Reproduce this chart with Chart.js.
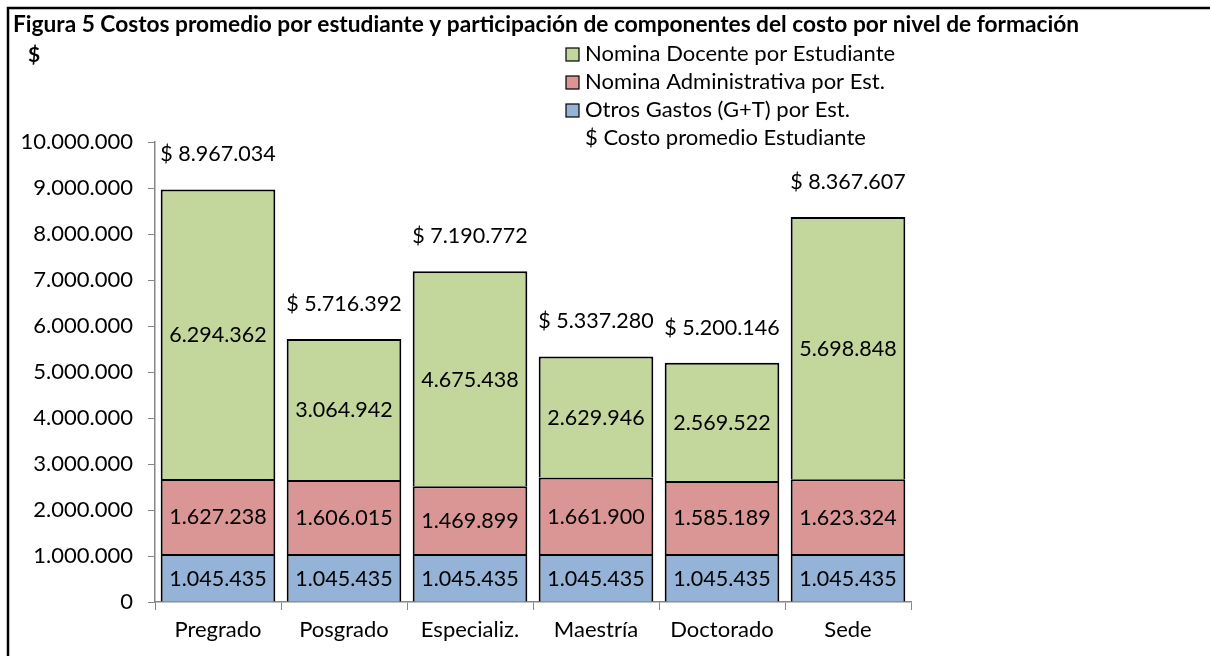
<!DOCTYPE html>
<html>
<head>
<meta charset="utf-8">
<script src="https://cdn.jsdelivr.net/npm/chart.js@4/dist/chart.umd.min.js"></script>
<style>
  html, body { margin: 0; padding: 0; background: #fff; }
  canvas { display: block; }
</style>
</head>
<body>
<canvas id="costosChart" width="1210" height="656"></canvas>
<script>
// datos de la figura 5
const categorias = ["Pregrado", "Posgrado", "Especializ.", "Maestría", "Doctorado", "Sede"];
const otrosGastos = [1045435, 1045435, 1045435, 1045435, 1045435, 1045435];
const nominaAdministrativa = [1627238, 1606015, 1469899, 1661900, 1585189, 1623324];
const nominaDocente = [6294362, 3064942, 4675438, 2629946, 2569522, 5698848];
const costoPromedio = [8967034, 5716392, 7190772, 5337280, 5200146, 8367607];
const ejeYMax = 10000000;
const ejeYPaso = 1000000;

const titulo = "Figura 5 Costos promedio por estudiante y participación de componentes del costo por nivel de formación";

// 1234567 -> "1.234.567"
function fmt(v) {
  return String(Math.round(v)).replace(/\B(?=(\d{3})+(?!\d))/g, ".");
}

Chart.defaults.font.family = "Lato";
Chart.defaults.color = "#000";

// marco, titulo, "$" y leyenda
const marcoPlugin = {
  id: "marco",
  beforeDraw(chart) {
    const c = chart.ctx;
    c.save();
    c.fillStyle = "#fff";
    c.fillRect(0, 0, chart.width, chart.height);
    c.strokeStyle = "#000";
    c.lineWidth = 2.5;
    c.beginPath();
    c.moveTo(8, chart.height);
    c.lineTo(8, 8);
    c.lineTo(chart.width, 8);
    c.stroke();
    c.restore();
  },
  afterDraw(chart) {
    const c = chart.ctx;
    c.save();
    c.fillStyle = "#000";
    c.textBaseline = "middle";
    c.font = "bold 22.7px Lato";
    c.fillText(titulo, 13, 25);
    c.font = "bold 21px Lato";
    c.fillText("$", 28, 55);

    // leyenda: barras de arriba hacia abajo, luego el costo promedio
    c.font = "22px Lato";
    const items = [2, 1, 0, 3];
    items.forEach((i, k) => {
      const ds = chart.data.datasets[i];
      const y = 54 + k * 28;
      if (ds.type !== "line") {
        c.fillStyle = ds.backgroundColor;
        c.fillRect(566, y - 6, 13, 13);
        c.strokeStyle = "#000";
        c.lineWidth = 1.2;
        c.strokeRect(566, y - 6, 13, 13);
      }
      c.fillStyle = "#000";
      c.fillText(ds.label, 585, y);
    });
    c.restore();
  }
};

// etiquetas de valores dentro de cada segmento y encima del total
const etiquetasPlugin = {
  id: "etiquetas",
  afterDatasetsDraw(chart) {
    const c = chart.ctx;
    c.save();
    c.fillStyle = "#000";
    c.font = "21.5px Lato";
    c.textAlign = "center";
    c.textBaseline = "middle";
    chart.data.datasets.forEach((ds, i) => {
      const meta = chart.getDatasetMeta(i);
      meta.data.forEach((el, j) => {
        const v = ds.data[j];
        if (ds.type === "line") {
          c.fillText("$ " + fmt(v), el.x, el.y - 35);
        } else {
          const p = el.getProps(["x", "y", "base"], true);
          c.fillText(fmt(v), p.x, (p.y + p.base) / 2 + 1);
        }
      });
    });
    c.restore();
  }
};

new Chart(document.getElementById("costosChart"), {
  type: "bar",
  data: {
    labels: categorias,
    datasets: [
      {
        label: "Otros Gastos (G+T) por Est.",
        data: otrosGastos,
        backgroundColor: "#95b3d7",
        borderColor: "#000",
        borderWidth: 2,
        stack: "costo"
      },
      {
        label: "Nomina Administrativa por Est.",
        data: nominaAdministrativa,
        backgroundColor: "#d99694",
        borderColor: "#000",
        borderWidth: 2,
        stack: "costo"
      },
      {
        label: "Nomina Docente por Estudiante",
        data: nominaDocente,
        backgroundColor: "#c3d69b",
        borderColor: "#000",
        borderWidth: 2,
        stack: "costo"
      },
      {
        type: "line",
        label: "$ Costo promedio Estudiante",
        data: costoPromedio,
        showLine: false,
        pointRadius: 0,
        borderColor: "rgba(0,0,0,0)",
        backgroundColor: "rgba(0,0,0,0)",
        stack: "total"
      }
    ]
  },
  options: {
    responsive: false,
    animation: false,
    layout: { padding: { left: 0, right: 299, top: 142, bottom: 9 } },
    datasets: {
      bar: { barPercentage: 0.91, categoryPercentage: 1 }
    },
    plugins: {
      legend: { display: false },
      title: { display: false },
      tooltip: { enabled: false }
    },
    scales: {
      x: {
        stacked: true,
        grid: {
          offset: true,
          drawOnChartArea: false,
          drawTicks: true,
          tickLength: 8,
          color: "#868686"
        },
        border: { display: true, color: "#868686", width: 1.5 },
        ticks: { font: { size: 22 }, padding: 7, color: "#000" },
        afterFit(s) { s.height = 45; }
      },
      y: {
        stacked: true,
        min: 0,
        max: ejeYMax,
        grid: {
          drawOnChartArea: false,
          drawTicks: true,
          tickLength: 7,
          color: "#868686"
        },
        border: { display: true, color: "#868686", width: 1.5 },
        ticks: {
          stepSize: ejeYPaso,
          font: { size: 22 },
          padding: 15,
          color: "#000",
          callback: (v) => fmt(v)
        },
        afterFit(s) { s.width = 155; }
      }
    }
  },
  plugins: [marcoPlugin, etiquetasPlugin]
});
</script>
</body>
</html>
